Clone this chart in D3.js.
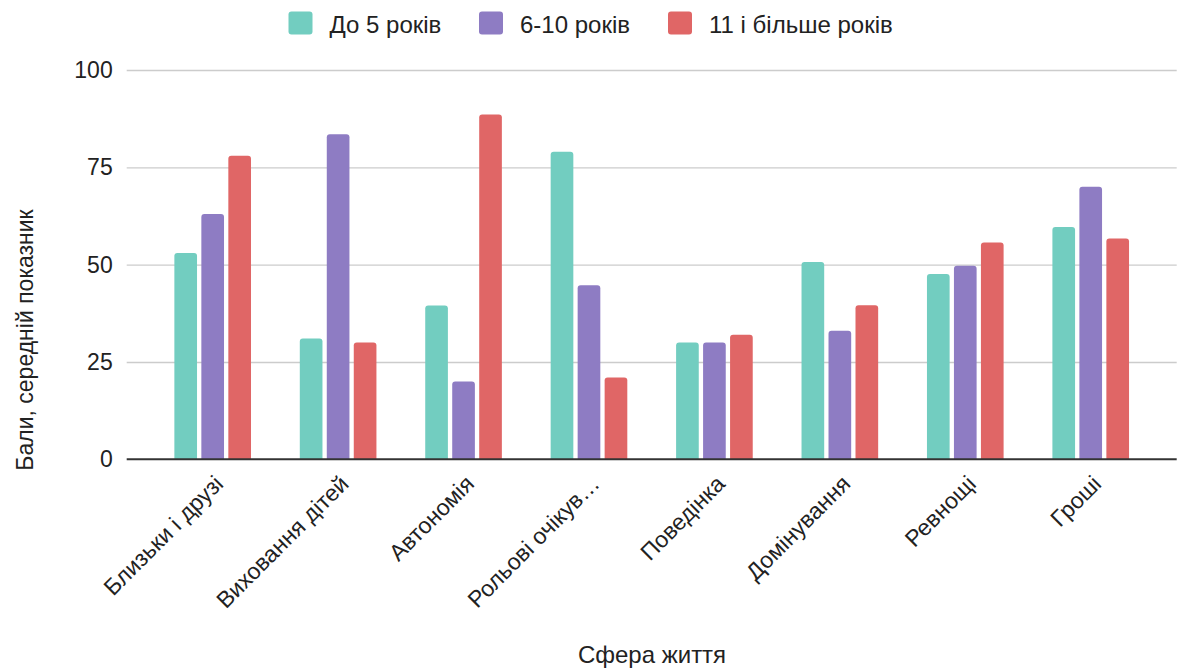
<!DOCTYPE html>
<html>
<head>
<meta charset="utf-8">
<script src="https://cdn.jsdelivr.net/npm/d3@7"></script>
<style>
  html, body { margin: 0; padding: 0; background: #fff; }
  svg { display: block; font-family: "Liberation Sans", Arial, sans-serif; }
</style>
</head>
<body>
<svg id="chart" width="1178" height="668"></svg>
<script>
// Spheres of life (x categories)
const categories = ["Близьки і друзі", "Виховання дітей", "Автономія", "Рольові очікув…",
                    "Поведінка", "Домінування", "Ревнощі", "Гроші"];
// Series: length of relationship
const seriesNames = ["До 5 років", "6-10 років", "11 і більше років"];
const upTo5 = [53, 31, 39.5, 79, 30, 50.7, 47.6, 59.7];
const from6to10 = [63, 83.5, 20, 44.7, 30, 33, 49.7, 70];
const over11 = [78, 30, 88.6, 21, 32, 39.6, 55.7, 56.7];
const yTicks = [0, 25, 50, 75, 100];
const colors = ["#72cdc0", "#8e7cc3", "#e06666"];

const seriesValues = [upTo5, from6to10, over11];
const rows = categories.map((c, i) => ({
  cat: c,
  vals: seriesNames.map((s, j) => ({ key: s, value: seriesValues[j][i], idx: j }))
}));

const FONT = "'Liberation Sans', Arial, sans-serif";
const FS = 23;
const FS_BIG = 24;
const TXT = "#222";

const svg = d3.select("#chart");
const plotLeft = 126.7, plotRight = 1176.7, plotTop = 70, plotBottom = 459.3;

const x0 = d3.scaleBand().domain(categories).range([plotLeft, plotRight])
  .paddingInner(0.389).paddingOuter(0.38);
const x1 = d3.scaleBand().domain(seriesNames).range([0, x0.bandwidth()])
  .paddingInner(0.16).paddingOuter(0);
const y = d3.scaleLinear().domain([0, 100]).range([plotBottom, plotTop]);

// Gridlines and y labels
const yAxis = svg.append("g")
  .attr("transform", `translate(${plotLeft},0)`)
  .call(d3.axisLeft(y).tickValues(yTicks).tickSize(-(plotRight - plotLeft)).tickPadding(14));
yAxis.select(".domain").remove();
yAxis.selectAll(".tick line").attr("stroke", "#cccccc").attr("stroke-width", 1.4)
  .filter(d => d === 0).remove();
yAxis.selectAll(".tick text").attr("font-size", FS).attr("fill", TXT)
  .attr("font-family", FONT);

// Bars with rounded top corners
function barPath(x, w, yTop, yBase, r) {
  const h = yBase - yTop;
  r = Math.min(r, h, w / 2);
  return `M${x},${yBase}V${yTop + r}Q${x},${yTop} ${x + r},${yTop}H${x + w - r}` +
         `Q${x + w},${yTop} ${x + w},${yTop + r}V${yBase}Z`;
}

const groups = svg.append("g").selectAll("g").data(rows).join("g")
  .attr("transform", d => `translate(${x0(d.cat)},0)`);
groups.selectAll("path").data(d => d.vals).join("path")
  .attr("d", d => barPath(x1(d.key), x1.bandwidth(), y(d.value), y(0), 3))
  .attr("fill", d => colors[d.idx]);

// Baseline
svg.append("line")
  .attr("x1", plotLeft).attr("x2", plotRight).attr("y1", y(0)).attr("y2", y(0))
  .attr("stroke", "#333").attr("stroke-width", 2);

// X axis category labels, rotated
const xAxis = svg.append("g")
  .attr("transform", `translate(0,${plotBottom})`)
  .call(d3.axisBottom(x0).tickSize(0).tickPadding(0));
xAxis.select(".domain").remove();
xAxis.selectAll(".tick text")
  .attr("font-size", FS).attr("fill", TXT)
  .attr("font-family", FONT)
  .attr("text-anchor", "end")
  .attr("dy", 0).attr("y", 0)
  .attr("transform", "translate(12,26) rotate(-45)");

// Axis titles
svg.append("text")
  .attr("x", 652).attr("y", 663).attr("text-anchor", "middle")
  .attr("font-size", FS_BIG).attr("fill", TXT).text("Сфера життя");
svg.append("text")
  .attr("transform", "translate(33,340) rotate(-90)")
  .attr("text-anchor", "middle")
  .attr("font-size", FS).attr("fill", TXT).text("Бали, середній показник");

// Legend
const legendX = [288.5, 479, 668];
const legend = svg.append("g").selectAll("g").data(seriesNames).join("g")
  .attr("transform", (d, i) => `translate(${legendX[i]},11.5)`);
legend.append("rect").attr("width", 24).attr("height", 23).attr("rx", 3)
  .attr("fill", (d, i) => colors[i]);
legend.append("text").attr("x", 41).attr("y", 21.5)
  .attr("font-size", FS_BIG).attr("fill", TXT).text(d => d);
</script>
</body>
</html>
